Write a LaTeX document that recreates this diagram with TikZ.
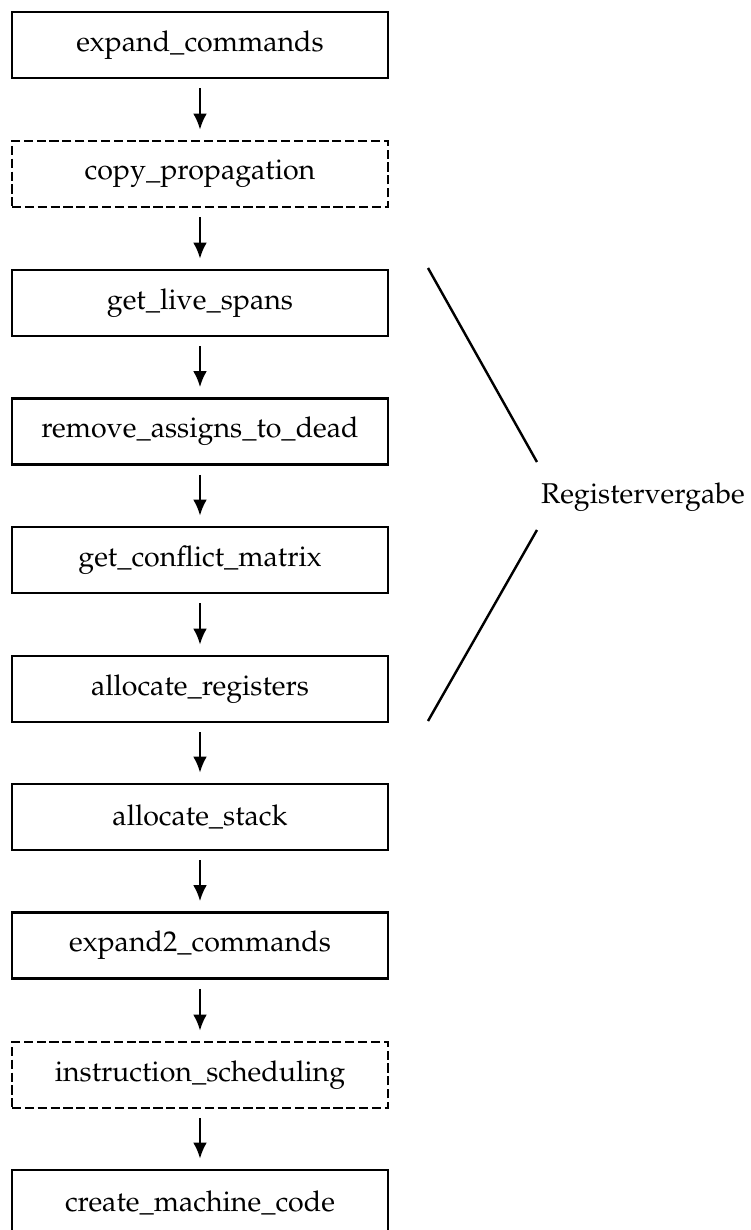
\documentclass[tikz,border=0pt]{standalone}
\usepackage[T1]{fontenc}
\usepackage{mathpazo}
\usepackage{tikz}
\usetikzlibrary{
    positioning,
    arrows.meta,
    calc
}
\tikzset{
    >={Latex[length=5.6pt,width=4.8pt]},
    phase/.style={
        draw,
        line width=0.9pt,
        minimum width=131.6pt,
        minimum height=23.1pt,
        inner sep=2pt
    },
    optphase/.style={
        phase,
        dash pattern=on 3.2pt off 1.3pt
    }
}

\begin{document}
\begin{tikzpicture}[
    x=0.35pt,
    y=-0.35pt,
    line width=0.85pt
]
    \useasboundingbox (0,0) rectangle (751,1230);

    % Phasen
    \node[phase]    (expand)   at (200,45)     {expand\_commands};
    \node[optphase] (copyprop) at (200,174)    {copy\_propagation};
    \node[phase]    (live)     at (200,303)    {get\_live\_spans};
    \node[phase]    (dead)     at (200,431.5)  {remove\_assigns\_to\_dead};
    \node[phase]    (conflict) at (200,560)    {get\_conflict\_matrix};
    \node[phase]    (regs)     at (200,689)    {allocate\_registers};
    \node[phase]    (stack)    at (200,817)    {allocate\_stack};
    \node[phase]    (expandz)  at (200,945.5)  {expand2\_commands};
    \node[optphase] (sched)    at (200,1075)   {instruction\_scheduling};
    \node[phase]    (machine)  at (200,1203)   {create\_machine\_code};

    % Registervergabe
    \node[inner sep=0pt] (regalloc) at (643,497) {Registervergabe};
    \coordinate (rtop) at (428,268);
    \coordinate (rbot) at (428,721);

    % Pfeile
    \path[->, shorten <=3.2pt, shorten >=3.5pt]
        (expand)   edge (copyprop)
        (copyprop) edge (live)
        (live)     edge (dead)
        (dead)     edge (conflict)
        (conflict) edge (regs)
        (regs)     edge (stack)
        (stack)    edge (expandz)
        (expandz)  edge (sched)
        (sched)    edge (machine);

    % Klammer
    \draw (rtop) -- ($(regalloc.west)+(-3,-35)$);
    \draw (rbot) -- ($(regalloc.west)+(-3,33)$);

\end{tikzpicture}
\end{document}
